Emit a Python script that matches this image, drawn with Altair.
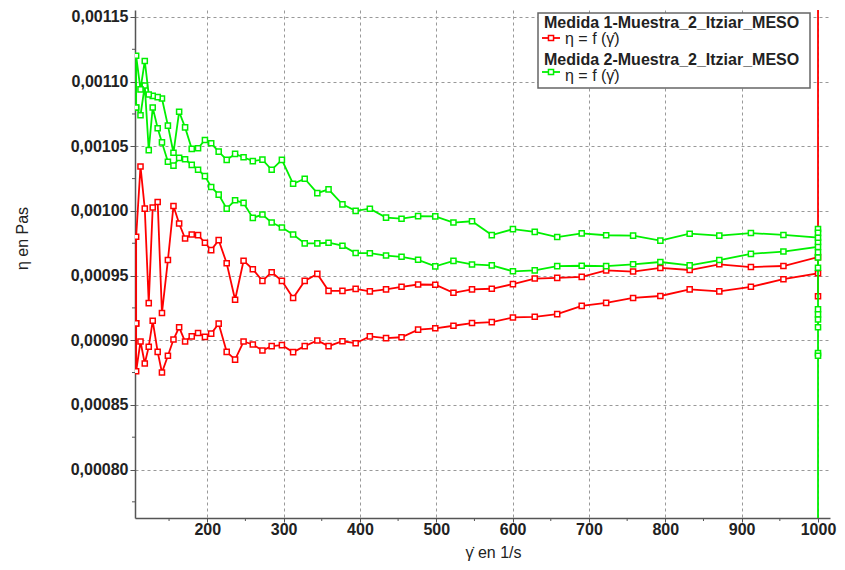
import altair as alt
import pandas as pd

# Shear-rate values (1/s) shared by all ramps, ascending
SHEAR = [106.9, 112.6, 118.2, 123.4, 128.6, 135.1, 140.7, 148.5, 155.8, 163.2,
         171.0, 179.7, 188.0, 197.0, 205.2, 215.0, 225.5, 236.5, 247.6, 259.7,
         272.3, 284.4, 297.8, 312.5, 327.7, 344.2, 358.9, 377.1, 394.4, 413.0,
         434.2, 454.5, 476.2, 498.7, 522.5, 546.8, 572.7, 600.4, 629.0, 658.4,
         690.5, 722.5, 757.8, 793.5, 831.9, 870.7, 912.1, 954.7, 1000.0]

# Medida 1 (red): ramp up (lower curve) and ramp down (upper curve), Pa·s
M1_UP = [0.000876, 0.000899, 0.000882, 0.000895, 0.000915, 0.000891, 0.000875, 0.000888, 0.0009005, 0.000910,
         0.000899, 0.000903, 0.0009056, 0.0009026, 0.0009051, 0.0009128, 0.000891, 0.000885, 0.000899, 0.0008967,
         0.000892, 0.0008954, 0.0008962, 0.0008908, 0.0008954, 0.0008998, 0.0008954, 0.0008992, 0.0008977, 0.000903,
         0.0009016, 0.0009023, 0.0009082, 0.0009092, 0.0009112, 0.0009133, 0.000914, 0.0009176, 0.0009181, 0.0009202,
         0.0009266, 0.0009289, 0.0009327, 0.0009342, 0.0009393, 0.0009378, 0.0009413, 0.0009472, 0.0009518]
M1_DOWN = [0.000980, 0.0010344, 0.0010018, 0.0009287, 0.0010026, 0.0010069, 0.000921, 0.000962, 0.0010038, 0.0009903,
           0.0009787, 0.0009818, 0.0009813, 0.0009754, 0.0009697, 0.0009774, 0.0009595, 0.0009313, 0.0009615, 0.0009549,
           0.0009459, 0.0009526, 0.0009459, 0.0009326, 0.0009459, 0.0009513, 0.0009382, 0.0009382, 0.0009397, 0.0009378,
           0.0009393, 0.0009413, 0.0009431, 0.0009429, 0.0009367, 0.0009393, 0.0009398, 0.0009434, 0.0009477, 0.0009482,
           0.000949, 0.000954, 0.0009531, 0.0009559, 0.0009543, 0.0009587, 0.0009566, 0.0009574, 0.0009643]
M1_START = [0.000913]
M1_HOLD = [0.000934, 0.00130]

# Medida 2 (green)
M2_UP = [0.001080, 0.001074, 0.001097, 0.001047, 0.001080, 0.001064, 0.001053, 0.001038, 0.001035, 0.001041,
         0.001040, 0.0010356, 0.0010318, 0.0010269, 0.0010185, 0.0010126, 0.0010018, 0.0010082, 0.0010062, 0.0009946,
         0.0009972, 0.000991, 0.0009872, 0.0009818, 0.0009749, 0.0009749, 0.0009754, 0.0009731, 0.0009674, 0.0009673,
         0.0009655, 0.0009645, 0.0009622, 0.0009571, 0.0009614, 0.0009586, 0.0009579, 0.0009533, 0.000954, 0.0009573,
         0.0009576, 0.0009573, 0.0009587, 0.0009605, 0.0009579, 0.000962, 0.0009668, 0.0009686, 0.0009722]
M2_DOWN = [0.001120, 0.001094, 0.001116, 0.001090, 0.001089, 0.001088, 0.001087, 0.001066, 0.001045, 0.0010767,
           0.0010646, 0.001048, 0.0010485, 0.0010549, 0.0010523, 0.0010459, 0.0010395, 0.0010441, 0.0010415, 0.0010385,
           0.0010397, 0.0010318, 0.0010395, 0.001021, 0.0010249, 0.0010138, 0.0010167, 0.0010051, 0.001000, 0.0010017,
           0.0009948, 0.000994, 0.000996, 0.0009958, 0.000991, 0.000992, 0.0009813, 0.0009859, 0.0009838, 0.0009798,
           0.0009826, 0.0009812, 0.0009809, 0.000977, 0.0009824, 0.0009809, 0.0009829, 0.0009814, 0.0009793]
M2_START = []
M2_HOLD = [0.000968, 0.000964, 0.000956, 0.000924, 0.000920, 0.000916, 0.000910, 0.000890, 0.000888,
           0.00060, 0.000986, 0.000983, 0.000976]

SERIES = ["Medida 1-Muestra_2_Itziar_MESO", "Medida 2-Muestra_2_Itziar_MESO"]
COLORS = ["#ff0000", "#00f000"]
FUNC_LABEL = "η = f (γ̇)"
X_TICKS = [200, 300, 400, 500, 600, 700, 800, 900, 1000]
X_MINOR = [150, 250, 350, 450, 550, 650, 750, 850, 950]
Y_TICKS = [0.00080, 0.00085, 0.00090, 0.00095, 0.00100, 0.00105, 0.00110, 0.00115]
Y_MINOR = [0.000775, 0.000825, 0.000875, 0.000925, 0.000975, 0.001025, 0.001075, 0.001125]

FONT = "Liberation Sans"
W, H = 695, 508


def build(name, start, up, hold, down):
    xs, ys = [], []
    for v in start:
        xs.append(SHEAR[0]); ys.append(v)
    xs += SHEAR; ys += up
    xs += [SHEAR[-1]] * len(hold); ys += hold
    xs += SHEAR[::-1]; ys += down[::-1]
    xs.append(SHEAR[0]); ys.append(start[0] if start else up[0])
    return pd.DataFrame({"x": xs, "y": ys, "series": name, "idx": range(len(xs))})


df = pd.concat([
    build(SERIES[0], M1_START, M1_UP, M1_HOLD, M1_DOWN),
    build(SERIES[1], M2_START, M2_UP, M2_HOLD, M2_DOWN),
], ignore_index=True)

xscale = alt.Scale(domain=[105.4, 1015.7], nice=False, zero=False)
yscale = alt.Scale(domain=[0.0007625, 0.0011554], nice=False, zero=False)
cscale = alt.Scale(domain=SERIES, range=COLORS)

xaxis = alt.Axis(values=X_TICKS, title="γ̇ en 1/s", format="d",
                 labelFont=FONT, labelFontSize=16, labelFontWeight="bold", labelColor="#222",
                 tickSize=4, tickColor="#555", labelPadding=-1,
                 domainColor="#555", domainWidth=1.5,
                 grid=True, gridDash=[3, 3], gridColor="#999",
                 titleFont=FONT, titleFontSize=16, titleFontWeight="normal", titleColor="#222",
                 titleX=358, titleY=39, titleBaseline="alphabetic")
yaxis = alt.Axis(values=Y_TICKS, title="η en Pas",
                 labelExpr="replace(format(datum.value, '.5f'), '.', ',')",
                 labelFont=FONT, labelFontSize=16, labelFontWeight="bold", labelColor="#222",
                 tickSize=5, tickColor="#555", labelPadding=2,
                 domainColor="#555", domainWidth=1.5,
                 grid=True, gridDash=[3, 3], gridColor="#999",
                 titleFont=FONT, titleFontSize=16, titleFontWeight="normal", titleColor="#222",
                 titleX=-105, titleY=228, titleAlign="center")

layers = []

# minor ticks
xm = pd.DataFrame({"v": X_MINOR})
ym = pd.DataFrame({"v": Y_MINOR})
layers.append(alt.Chart(xm).mark_rule(color="#555", strokeWidth=1).encode(
    x=alt.X("v:Q", scale=xscale, axis=xaxis), y=alt.value(H), y2=alt.value(H + 3)))
layers.append(alt.Chart(ym).mark_rule(color="#555", strokeWidth=1).encode(
    y=alt.Y("v:Q", scale=yscale, axis=yaxis), x=alt.value(-3), x2=alt.value(0)))

for i, name in enumerate(SERIES):
    base = alt.Chart(df).transform_filter(alt.datum.series == name).encode(
        x=alt.X("x:Q", scale=xscale, axis=xaxis),
        y=alt.Y("y:Q", scale=yscale, axis=yaxis),
        color=alt.Color("series:N", scale=cscale, legend=None),
        order=alt.Order("idx:Q"),
    )
    layers.append(base.mark_line(clip=True, strokeWidth=1.8))
    layers.append(base.mark_point(shape="square", size=26, filled=False, fill="white",
                                  fillOpacity=1, strokeWidth=1.5, clip=True, opacity=1))

one = pd.DataFrame({"k": [0]})
box = alt.Chart(one).mark_rect(fill="white", stroke="#666", strokeWidth=1.5).encode(
    x=alt.value(403), x2=alt.value(675), y=alt.value(3), y2=alt.value(78))
layers.append(box)

rows = [(18, 34, 28), (55, 71, 62)]
for i, (ty, fy, sy) in enumerate(rows):
    layers.append(alt.Chart(one).mark_text(align="left", baseline="alphabetic", font=FONT,
                                           fontSize=16, fontWeight="bold", color="#222").encode(
        x=alt.value(409), y=alt.value(ty), text=alt.value(SERIES[i])))
    layers.append(alt.Chart(one).mark_rule(color=COLORS[i], strokeWidth=1.8).encode(
        x=alt.value(407), x2=alt.value(425), y=alt.value(sy)))
    layers.append(alt.Chart(one).mark_point(shape="square", size=26, filled=False, fill="white",
                                            fillOpacity=1, strokeWidth=1.5, color=COLORS[i], opacity=1).encode(
        x=alt.value(416), y=alt.value(sy)))
    layers.append(alt.Chart(one).mark_text(align="left", baseline="alphabetic", font=FONT,
                                           fontSize=16, color="#222").encode(
        x=alt.value(430), y=alt.value(fy), text=alt.value(FUNC_LABEL)))

chart = alt.layer(*layers).properties(
    width=W, height=H,
    autosize=alt.AutoSizeParams(type="none"),
    padding={"left": 127, "top": 2, "right": 7, "bottom": 44},
).configure_view(stroke=None)

chart.save("out.html", embed_options={"renderer": "svg", "actions": False})
